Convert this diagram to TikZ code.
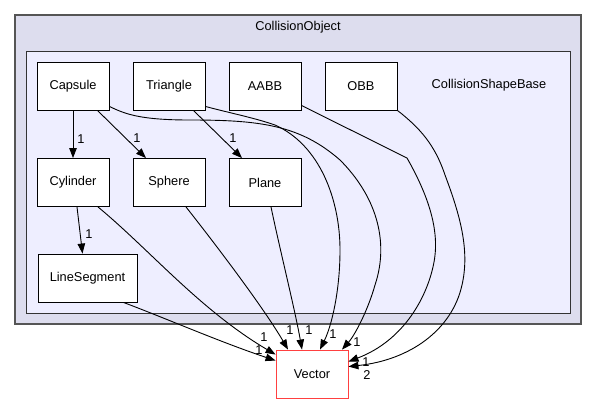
\documentclass[tikz,border=0pt]{standalone}
\usepackage{fontspec}
\setmainfont{Liberation Sans}
\usetikzlibrary{arrows.meta}
\definecolor{outerfill}{HTML}{DDDDEE}
\definecolor{innerfill}{HTML}{EEEEFF}
\definecolor{outerline}{HTML}{555555}
\definecolor{vecred}{HTML}{FF4040}
\begin{document}
\begin{tikzpicture}[x=1bp,y=-1bp,
  every node/.style={font=\fontsize{12.8bp}{15bp}\selectfont, inner sep=0pt},
  box/.style={draw=black, line width=0.9bp, fill=white, minimum width=72bp, minimum height=48bp},
  dep/.style={draw=black, line width=0.9bp, -{Triangle[length=10bp,width=7.5bp]}},
  lbl/.style={}]
\useasboundingbox (0,0) rectangle (597,404);
\fill[white] (0,0) rectangle (597,404);
% clusters
\draw[fill=outerfill, draw=outerline, line width=1.3bp] (15,15) rectangle (581,324);
\node (title) at (298,27) {CollisionObject};
\draw[fill=innerfill, draw=black!80, line width=1bp] (26,51.5) rectangle (570.5,313);
\node (csb) at (489,85) {CollisionShapeBase};
% nodes
\node[box] (Capsule) at (73,86) {Capsule};
\node[box] (Triangle) at (169,86) {Triangle};
\node[box] (AABB) at (265,86) {AABB};
\node[box] (OBB) at (361,86) {OBB};
\node[box] (Cylinder) at (73,182.5) {Cylinder};
\node[box] (Sphere) at (169,182.5) {Sphere};
\node[box] (Plane) at (265,182.5) {Plane};
\node[box, minimum width=99bp] (LineSegment) at (87.5,278) {LineSegment};
\node[box, draw=vecred] (Vector) at (312,374) {Vector};
% edges inside
\draw[dep] (Capsule.south) -- (Cylinder.north);
\node[lbl] (l1) at (81,139) {1};
\draw[dep] ([xshift=-12bp]Capsule.south east) -- ([xshift=-23bp]Sphere.north);
\node[lbl] (l2) at (137,138) {1};
\draw[dep] ([xshift=-12bp]Triangle.south east) -- ([xshift=-23bp]Plane.north);
\node[lbl] (l3) at (233,138) {1};
\draw[dep] ([xshift=4bp]Cylinder.south) -- ([xshift=-5bp]LineSegment.north);
\node[lbl] (l4) at (89,234) {1};
% edges to Vector
\draw[dep] ([xshift=25bp]Cylinder.south) .. controls (150,250) and (200,310) .. ([yshift=-5bp]Vector.north west);
\node[lbl] (l5) at (264,337) {1};
\draw[dep] ([xshift=36bp]LineSegment.south) .. controls (165,318) and (220,342) .. ([yshift=-11bp]Vector.north west);
\node[lbl] (l6) at (259,350) {1};
\draw[dep] ([xshift=17bp]Sphere.south) .. controls (220,250) and (265,310) .. ([xshift=-24bp]Vector.north);
\node[lbl] (l7) at (290,330) {1};
\draw[dep] ([xshift=6bp]Plane.south) .. controls (280,250) and (295,310) .. ([xshift=-10bp]Vector.north);
\node[lbl] (l8) at (309,330) {1};
\draw[dep] ([yshift=4bp]Triangle.south east) .. controls (230,113) and (255,118) .. (275,125)
  .. controls (320,145) and (340,200) .. (340,250)
  .. controls (340,290) and (332,325) .. ([xshift=8bp]Vector.north);
\node[lbl] (l9) at (333,334) {1};
\draw[dep] ([yshift=4bp]Capsule.south east) .. controls (125,114) and (140,120) .. (190,120)
  .. controls (260,120) and (300,125) .. (340,160)
  .. controls (375,195) and (390,240) .. (375,285)
  .. controls (368,310) and (355,335) .. ([xshift=30bp]Vector.north);
\node[lbl] (l10) at (357,342) {1};
\draw[dep] ([yshift=5bp]AABB.south east) -- (407,158)
  .. controls (428,195) and (440,230) .. (434,262)
  .. controls (428,295) and (405,340) .. ([yshift=-12bp]Vector.north east);
\node[lbl] (l11) at (366,362) {1};
\draw[dep] (OBB.south east) .. controls (420,128) and (435,145) .. (445,175)
  .. controls (460,215) and (470,250) .. (462,285)
  .. controls (452,330) and (410,360) .. ([yshift=-17bp]Vector.north east);
\node[lbl] (l12) at (367,375) {2};
\end{tikzpicture}
\end{document}
